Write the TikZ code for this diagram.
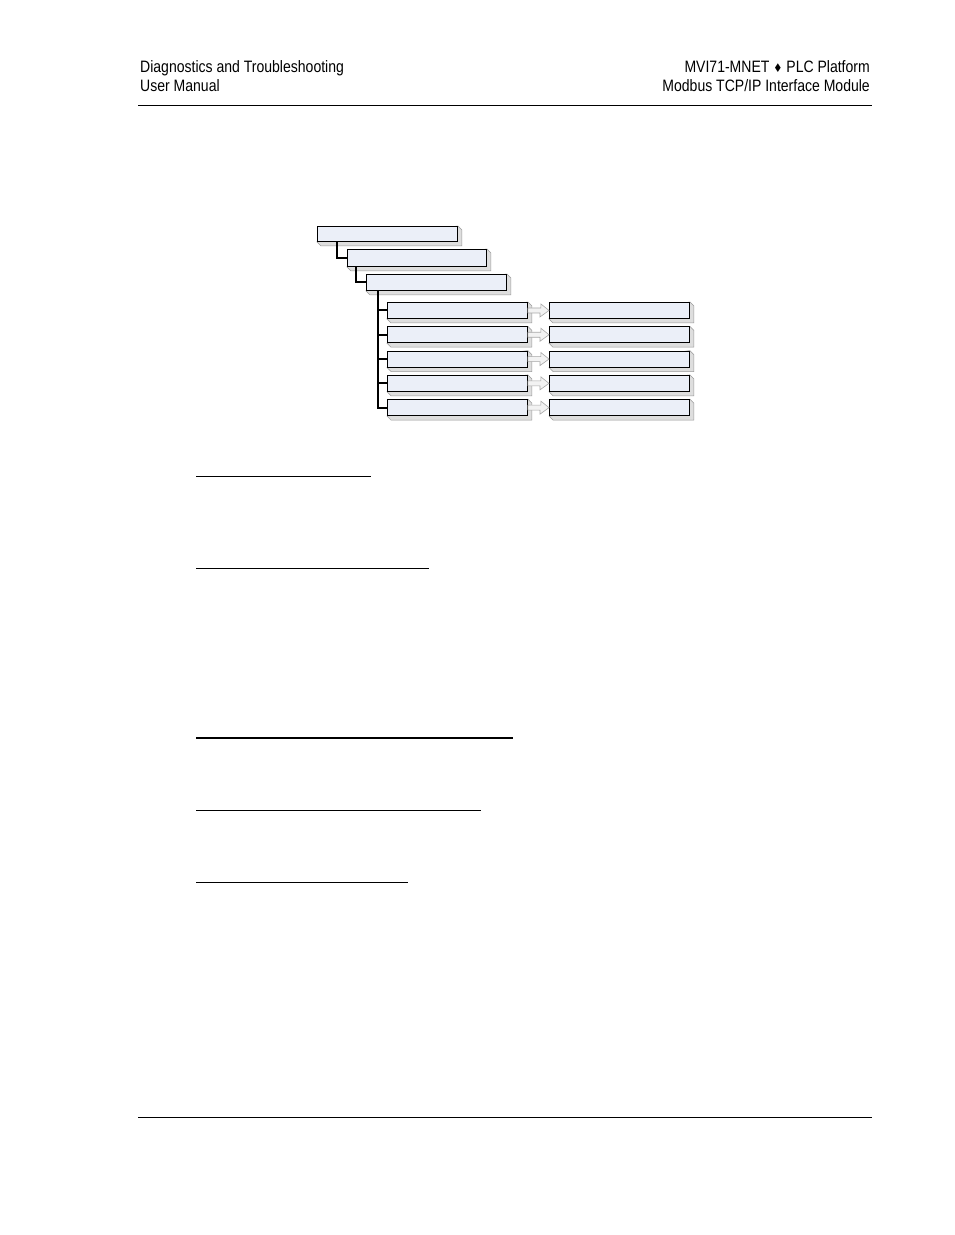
\documentclass[tikz,border=0pt]{standalone}
\usepackage{fontspec}
\setmainfont{Liberation Sans}
\newfontfamily\symfont{DejaVu Sans}
\usetikzlibrary{calc,backgrounds}
\definecolor{boxfill}{HTML}{EBEFF8}
\definecolor{bevelfill}{HTML}{DEDEDE}
\definecolor{bevelline}{HTML}{9A9A9A}
\tikzset{
  hdr/.style={inner sep=0pt, font=\fontsize{16.5}{19}\selectfont},
  menubox/.style={draw=black, fill=boxfill, line width=0.9pt, inner sep=0pt,
    anchor=north west, minimum width=140pt, minimum height=16pt},
  tree/.style={line width=2pt},
  hollow/.style={draw=gray!70, fill=gray!10, line width=0.6pt, line join=miter},
  heading/.style={line width=1pt}
}
\newcommand\bevel[1]{\filldraw[fill=bevelfill, draw=bevelline, line width=0.5pt]
  (#1.north east) -- ++(4,4) |- ($(#1.south west)+(4,4)$) -- (#1.south west) -- cycle;}
% block arrow from #1 to #2
\newcommand\blockarrow[2]{\filldraw[hollow] ([yshift=2.5pt]#1.east) -- ++(13,0) -- ++(0,-4)
  -- (#2.west) -- ++(-9,6.5) -- ++(0,-4) -- ([yshift=-2.5pt]#1.east) -- cycle;}
\begin{document}
\begin{tikzpicture}[x=1pt,y=-1pt]
  \newcommand\Lx{387}
  \newcommand\Rx{549}
  \newcommand\Dy{24.3}
  \useasboundingbox (0,0) rectangle (954,1235);
  % page header and footer
  \node[hdr,anchor=base west] (hl1) at (140,72) {\scalebox{.85}[1]{Diagnostics and Troubleshooting}};
  \node[hdr,anchor=base west] (hl2) at (140,91) {\scalebox{.85}[1]{User Manual}};
  \node[hdr,anchor=base east] (hr1) at (870,72) {\scalebox{.85}[1]{MVI71-MNET {\symfont\fontsize{12}{14}\selectfont ♦} PLC Platform}};
  \node[hdr,anchor=base east] (hr2) at (870,91) {\scalebox{.85}[1]{Modbus TCP/IP Interface Module}};
  \draw[line width=1pt] (138,105) -- (872,105);
  \draw[line width=1pt] (138,1117) -- (872,1117);
  % menu tree
  \node[menubox, minimum height=15pt] (main) at (317,226) {};
  \node[menubox, minimum width=139pt, minimum height=17pt] (sub) at (347,249) {};
  \node[menubox] (diag) at (366,274) {};
  \foreach \i in {0,...,4} {
    \node[menubox] (l\i) at (\Lx,302+\i*\Dy) {};
    \node[menubox] (r\i) at (\Rx,302+\i*\Dy) {};
  }
  \begin{scope}[on background layer]
    \foreach \n in {main,sub,diag,l0,l1,l2,l3,l4,r0,r1,r2,r3,r4} {\bevel{\n}}
  \end{scope}
  \draw[tree] ([xshift=20pt]main.south west) |- (sub.west);
  \draw[tree] ([xshift=9pt]sub.south west) |- (diag.west);
  \foreach \i in {0,...,4} {
    \draw[tree] ([xshift=12pt]diag.south west) |- (l\i.west);
    \blockarrow{l\i}{r\i}
  }
  % heading rules
  \draw[heading] (196,476) -- (371,476);
  \draw[heading] (196,568) -- (429,568);
  \draw[heading, line width=2pt] (196,738) -- (513,738);
  \draw[heading] (196,810) -- (481,810);
  \draw[heading] (196,882) -- (408,882);
\end{tikzpicture}
\end{document}
